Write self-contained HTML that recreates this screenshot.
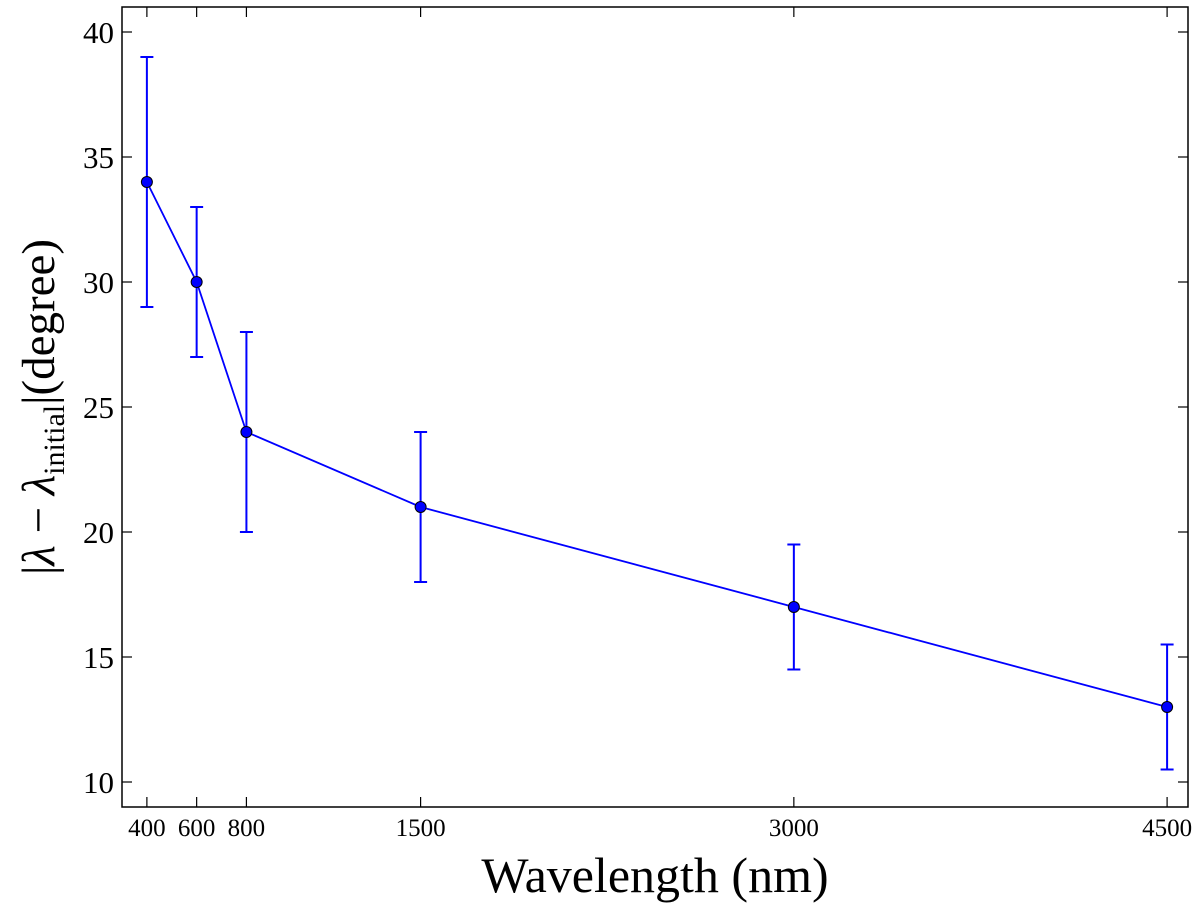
<!DOCTYPE html>
<html><head><meta charset="utf-8"><style>
html,body{margin:0;padding:0;background:#fff;width:1200px;height:904px;overflow:hidden}
svg text{font-family:"Liberation Serif",serif;fill:#000}
</style></head><body>
<svg id="chart" width="1200" height="904" viewBox="0 0 1200 904" xmlns="http://www.w3.org/2000/svg">
<rect x="122" y="7" width="1066" height="800" fill="none" stroke="#000" stroke-width="1.5"/>
<g id="ticks"></g>
<g id="series"></g>
<text x="655" y="892" font-size="50" text-anchor="middle">Wavelength (nm)</text>
<text transform="translate(54,407) rotate(-90)" font-size="47" text-anchor="middle">|<tspan font-style="italic">λ</tspan> − <tspan font-style="italic">λ</tspan><tspan font-size="30" dy="10">initial</tspan><tspan dy="-10">|(degree)</tspan></text>
</svg>
<script>
const categories=[400,600,800,1500,3000,4500];
const values=[34,30,24,21,17,13];
const errLow=[29,27,20,18,14.5,10.5];
const errHigh=[39,33,28,24,19.5,15.5];
const yTicks=[10,15,20,25,30,35,40];
const xTickLabels=["400","600","800","1500","3000","4500"];
const L=122,R=1188,T=7,B=807;
const xs=v=>L+(v-300)*(R-L)/(4584-300);
const ys=v=>B-(v-9)*(B-T)/(41-9);
const NS="http://www.w3.org/2000/svg";
function mk(tag,attrs,parent){const e=document.createElementNS(NS,tag);for(const k in attrs)e.setAttribute(k,attrs[k]);parent.appendChild(e);return e;}
const tg=document.getElementById('ticks'),sg=document.getElementById('series');
yTicks.forEach(t=>{
  const y=ys(t);
  let a=mk('line',{x1:L,x2:L+10,y1:y,y2:y,stroke:'#000','stroke-width':1.2},tg);
  
  
  let b=mk('line',{x1:R,x2:R-10,y1:y,y2:y,stroke:'#000','stroke-width':1.2},tg);
  
  
  let tx=mk('text',{x:L-8,y:y+11,'font-size':31,'text-anchor':'end'},tg);
  tx.textContent=t;
  
  
});
categories.forEach((c,i)=>{
  const x=xs(c);
  let a=mk('line',{x1:x,x2:x,y1:B,y2:B-10,stroke:'#000','stroke-width':1.2},tg);
  
  
  let b=mk('line',{x1:x,x2:x,y1:T,y2:T+10,stroke:'#000','stroke-width':1.2},tg);
  
  
  let tx=mk('text',{x:x,y:B+29,'font-size':25,'text-anchor':'middle'},tg);
  tx.textContent=xTickLabels[i];
  
  
});
const pts=categories.map((c,i)=>xs(c)+','+ys(values[i])).join(' ');
let pl=mk('polyline',{points:pts,fill:'none',stroke:'#0000ff','stroke-width':1.8},sg);


categories.forEach((c,i)=>{
  const x=xs(c);
  let e=mk('path',{d:`M${x},${ys(errLow[i])}V${ys(errHigh[i])}M${x-6.5},${ys(errLow[i])}H${x+6.5}M${x-6.5},${ys(errHigh[i])}H${x+6.5}`,stroke:'#0000ff','stroke-width':2,fill:'none'},sg);
  
  
  let p=mk('circle',{cx:x,cy:ys(values[i]),r:5.5,fill:'#0000ff',stroke:'#000','stroke-width':1},sg);
  
  
});
</script>
</body></html>
